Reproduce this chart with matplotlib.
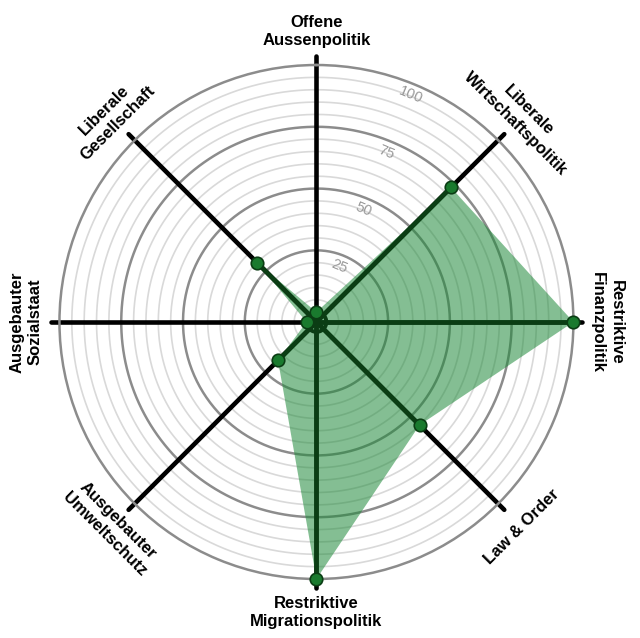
import numpy as np
import matplotlib
matplotlib.use("Agg")
import matplotlib.pyplot as plt

categories = ["Offene\nAussenpolitik", "Liberale\nWirtschaftspolitik", "Restriktive\nFinanzpolitik",
              "Law & Order", "Restriktive\nMigrationspolitik", "Ausgebauter\nUmweltschutz",
              "Ausgebauter\nSozialstaat", "Liberale\nGesellschaft"]
values = [0, 73, 100, 55, 100, 18, 0, 30]
tick_values = [25, 50, 75, 100]
label_rotations = [0, -45, -90, 45, 0, -45, 90, 45]

plt.rcParams['font.family'] = ['Liberation Sans', 'DejaVu Sans']

fig = plt.figure(figsize=(6.4, 6.38), dpi=100)
ax = fig.add_axes([0.0929, 0.0925, 0.8031, 0.8056], projection='polar')
ax.set_theta_zero_location('N')
ax.set_theta_direction(-1)
ax.set_ylim(-4, 100)
ax.set_xticks([])
ax.set_yticks([])
ax.grid(False)
ax.spines['polar'].set_color('#8c8c8c')
ax.spines['polar'].set_linewidth(1.8)

n = len(categories)
theta = np.arange(n) * 2 * np.pi / n
circ = np.linspace(0, 2 * np.pi, 400)

# grid circles
for v in range(5, 100, 5):
    if v % 25 == 0:
        ax.plot(circ, np.full_like(circ, v), color='#8c8c8c', lw=1.8, zorder=1)
    else:
        ax.plot(circ, np.full_like(circ, v), color='#d9d9d9', lw=1.2, zorder=1)

# spokes
for t in theta:
    ax.plot([t, t], [-4, 103.5], color='black', lw=3.3, solid_capstyle='round', zorder=2, clip_on=False)

# fill polygon
tt = np.append(theta, theta[0])
vv = np.append(values, values[0])
ax.fill(tt, vv, color='#1f8a3a', alpha=0.55, lw=0, zorder=3)

# green value lines
for t, v in zip(theta, values):
    ax.plot([t, t], [-4, v], color='#0b3d14', lw=3.3, zorder=4, solid_capstyle='butt')
ax.plot(circ, np.zeros_like(circ), color='#0b3d14', lw=2.8, zorder=4)

# markers
ax.plot(theta, values, 'o', ms=9, mfc='#1a7a2e', mec='#0b3d14', mew=1.2, zorder=5, clip_on=False)

# tick labels
ang = np.pi / 8
for v in tick_values:
    ax.text(ang, v - 4.7, str(v), color='#999999', fontsize=10.5, rotation=-22.5,
            ha='center', va='center', zorder=6)

# category labels
for t, lab, rot in zip(theta, categories, label_rotations):
    ax.text(t, 113.5, lab, fontsize=12, fontweight='bold', ha='center', va='center',
            rotation=rot, rotation_mode='anchor', linespacing=1.3, clip_on=False)

fig.savefig('out.png', dpi=100)
